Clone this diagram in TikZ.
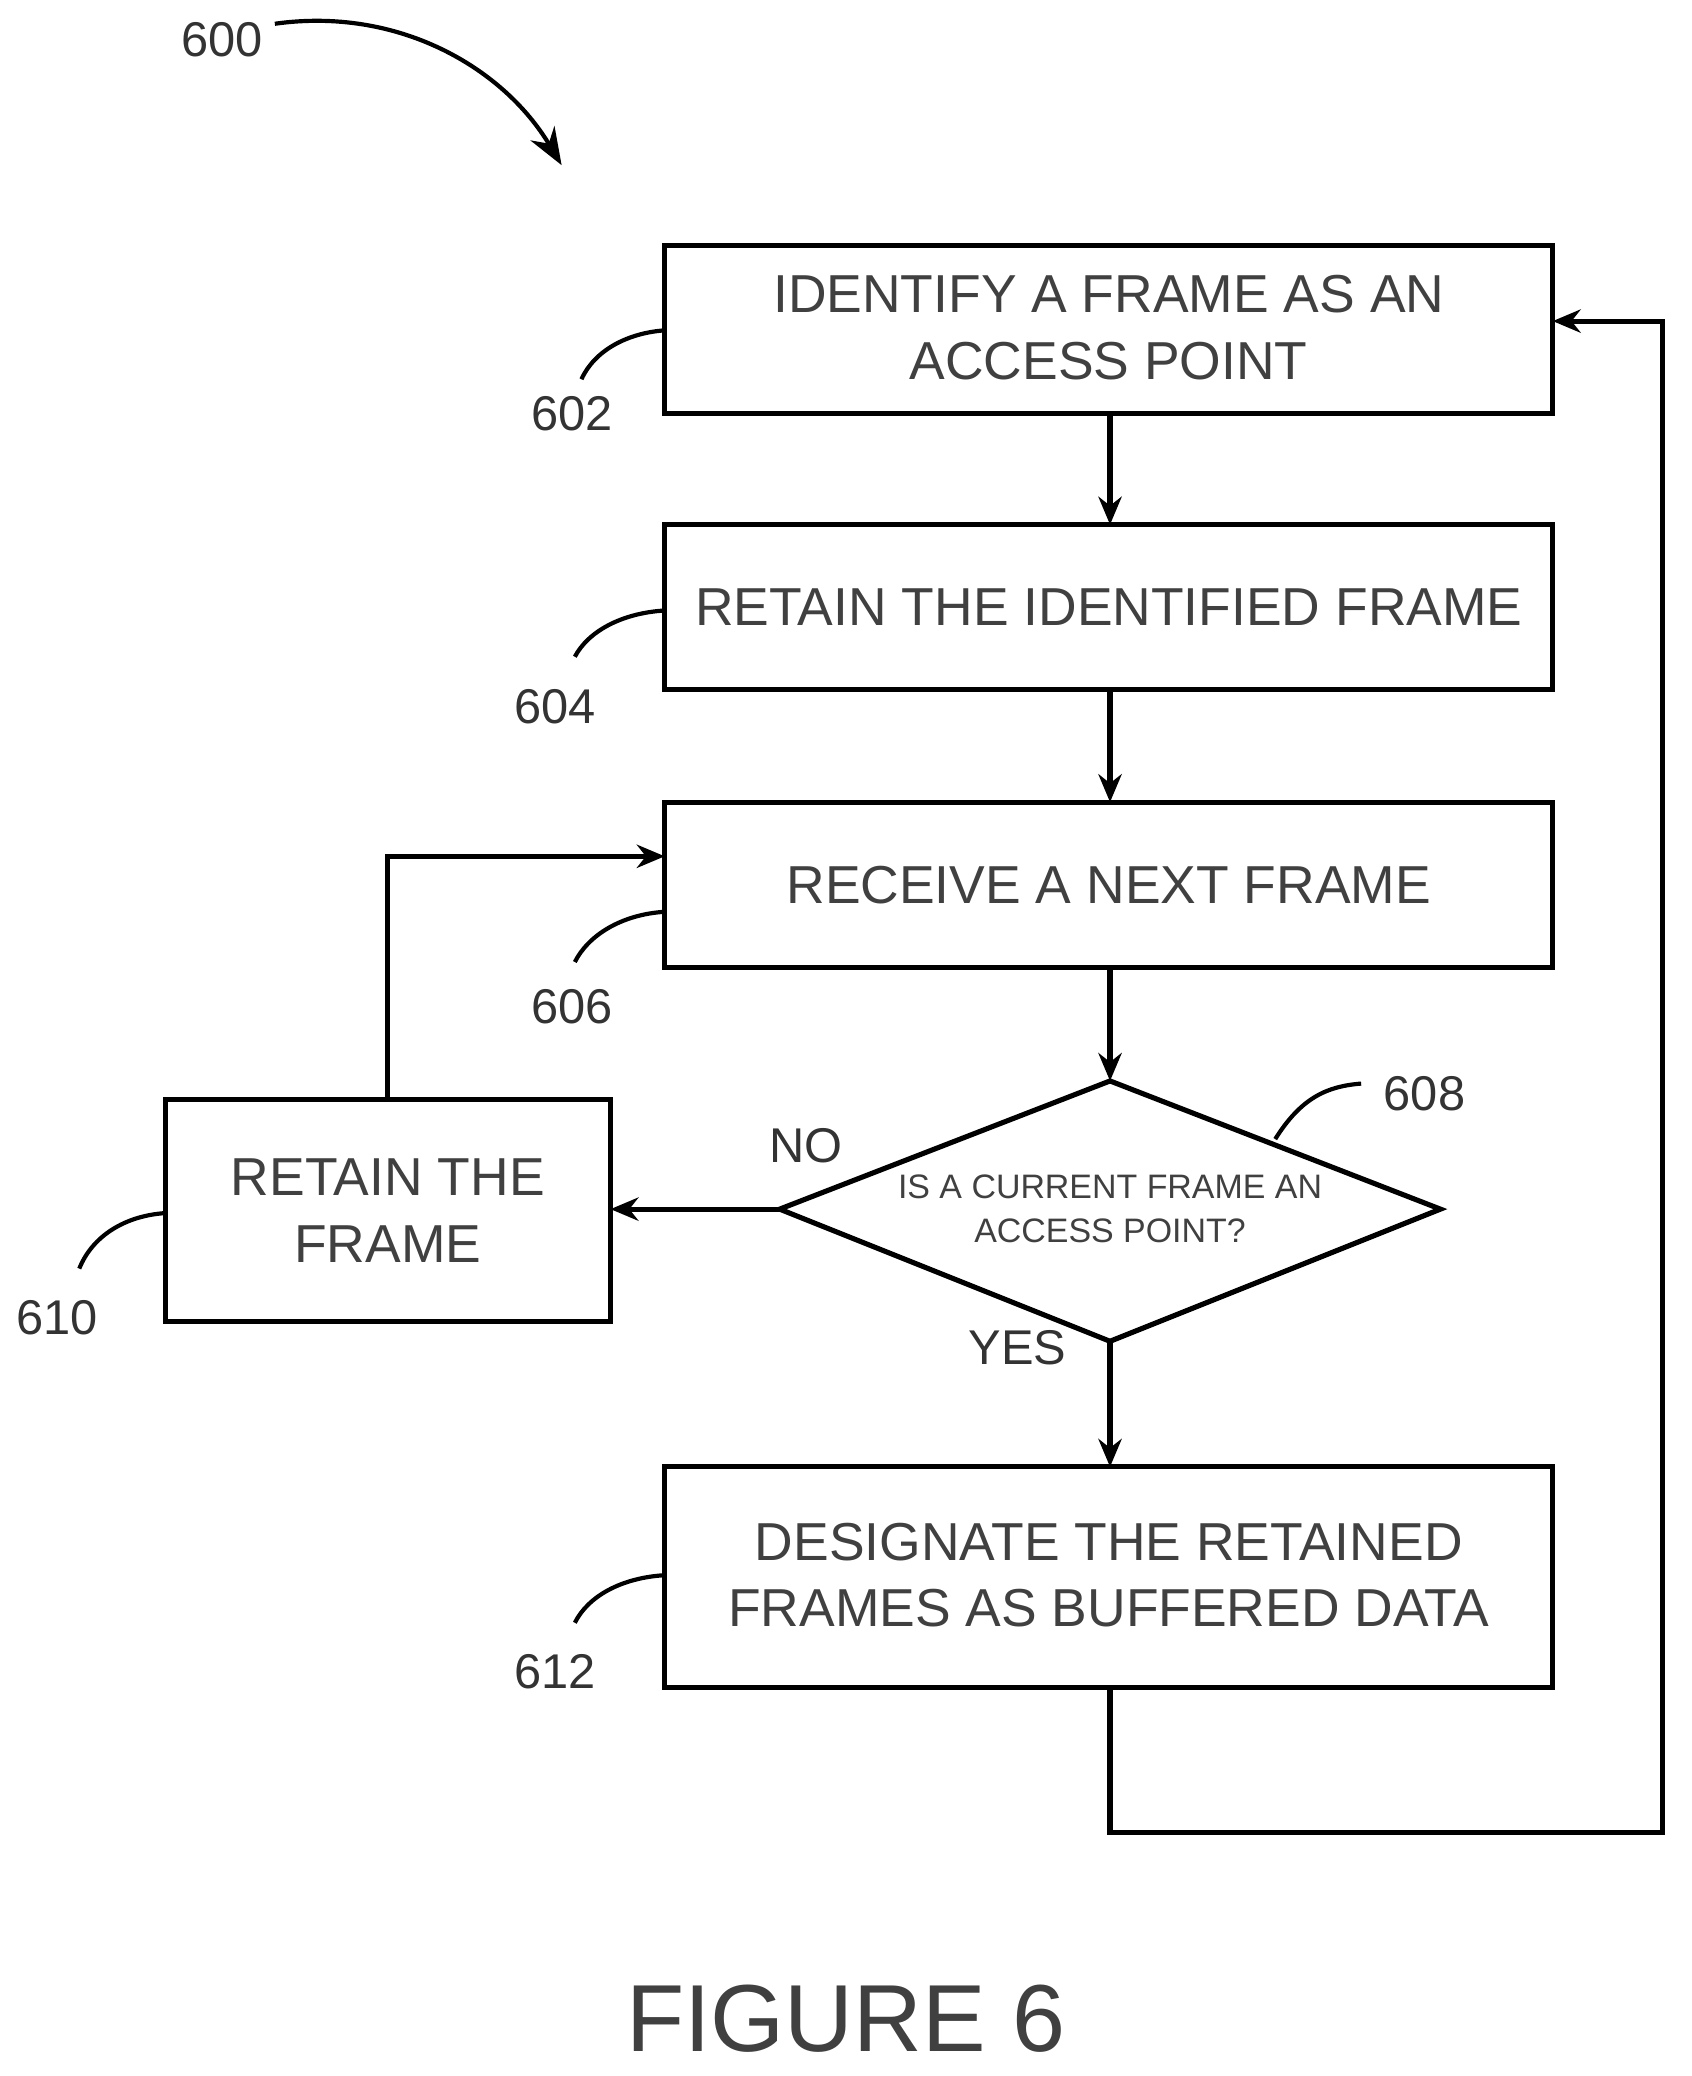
\documentclass[tikz,border=0pt]{standalone}
\usepackage{fontspec}
\setmainfont{Liberation Sans}
\usetikzlibrary{arrows.meta,shapes.geometric}
\begin{document}
\begin{tikzpicture}[x=0.01cm,y=-0.01cm,
  ar/.style={line width=1.1pt,-{Stealth[length=6pt,width=5pt]}},
  ln/.style={line width=1.1pt},
  lead/.style={line width=0.9pt},
  lab/.style={font=\fontsize{10.5}{10.5}\selectfont,text=black!80},
  txt/.style={font=\fontsize{11.5}{14.3}\selectfont,align=center,text=black!75}]
\useasboundingbox (0,0) rectangle (1280,1571);
\draw[ln] (503,186) rectangle (1175,313); \node[txt] (b602) at (839,248) {IDENTIFY A FRAME AS AN\\ACCESS POINT};
\draw[ln] (503,397) rectangle (1175,522); \node[txt] (b604) at (839,459.5) {RETAIN THE IDENTIFIED FRAME};
\draw[ln] (503,607) rectangle (1175,732); \node[txt] (b606) at (839,669.5) {RECEIVE A NEXT FRAME};
\draw[ln] (125,832) rectangle (462,1000); \node[txt] (b610) at (293.5,916) {RETAIN THE\\FRAME};
\draw[ln] (503,1110) rectangle (1175,1277); \node[txt] (b612) at (839,1192) {DESIGNATE THE RETAINED\\FRAMES AS BUFFERED DATA};
\draw[ln] (590,915) -- (840,818) -- (1090,915) -- (840,1015) -- cycle;
\node[font=\fontsize{7.3}{9.5}\selectfont,align=center,text=black!75] (d608) at (840,915) {IS A CURRENT FRAME AN\\ACCESS POINT?};
\coordinate (t602) at (840,313); \coordinate (t604t) at (840,397);
\coordinate (t604) at (840,522); \coordinate (t606t) at (840,607);
\coordinate (t606) at (840,732); \coordinate (dt) at (840,818);
\coordinate (db) at (840,1015); \coordinate (t612t) at (840,1110);
\coordinate (dl) at (590,915); \coordinate (r610) at (462,915);
\coordinate (t610) at (293,832); \coordinate (l606) at (503,648);
\coordinate (b612b) at (840,1277); \coordinate (r602) at (1175,243);
\draw[ar] (t602) -- (t604t);
\draw[ar] (t604) -- (t606t);
\draw[ar] (t606) -- (dt);
\draw[ar] (db) -- (t612t);
\draw[ar] (dl) -- (r610);
\draw[ar] (t610) |- (l606);
\draw[ar] (b612b) -- (840,1387) -- (1258,1387) |- (r602);
\node[lab] at (610,867) {NO};
\node[lab] at (770,1020) {YES};
\node[lab] at (1078,828) {608};
\draw[lead] (965,862) .. controls (985,830) and (1005,822) .. (1030,820);
\node[lab] at (433,313) {602};
\draw[lead] (440,287) .. controls (450,265) and (475,252) .. (503,250);
\node[lab] at (420,535) {604};
\draw[lead] (435,497) .. controls (445,478) and (470,464) .. (503,462);
\node[lab] at (433,762) {606};
\draw[lead] (435,728) .. controls (445,708) and (470,692) .. (503,690);
\node[lab] at (43,997) {610};
\draw[lead] (60,960) .. controls (70,935) and (95,920) .. (125,918);
\node[lab] at (420,1265) {612};
\draw[lead] (435,1228) .. controls (445,1208) and (470,1194) .. (503,1192);
\node[lab] at (168,30) {600};
\draw[lead,-{Stealth[length=8pt,width=6pt]}] (208,18) .. controls (300,5) and (380,50) .. (425,125);
\node[font=\fontsize{20.5}{20.5}\selectfont,text=black!75] at (640,1528) {FIGURE 6};
\end{tikzpicture}
\end{document}
